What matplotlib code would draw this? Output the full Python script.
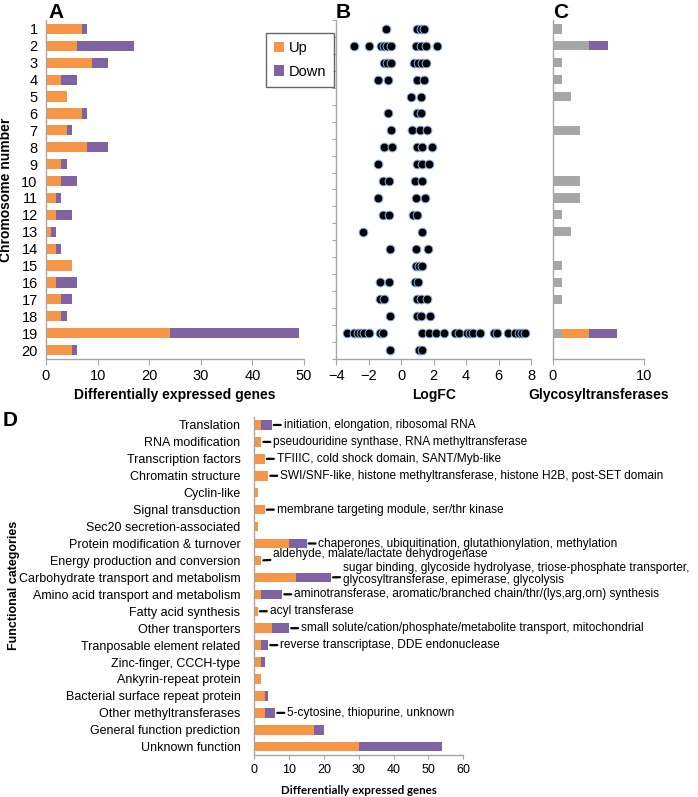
import matplotlib
matplotlib.use("Agg")
import matplotlib.pyplot as plt
import numpy as np

plt.rcParams['font.family'] = ['Liberation Sans', 'DejaVu Sans']

ORANGE = '#F79646'
PURPLE = '#8064A2'
GREY = '#A6A6A6'
SPINE = '#A6A6A6'

# ---------------- Panel A data ----------------
chromosomes = [str(i) for i in range(1, 21)]
chr_up = [7, 6, 9, 3, 4, 7, 4, 8, 3, 3, 2, 2, 1, 2, 5, 2, 3, 3, 24, 5]
chr_down = [1, 11, 3, 3, 0, 1, 1, 4, 1, 3, 1, 3, 1, 1, 0, 4, 2, 1, 25, 1]

# ---------------- Panel B data (LogFC per chromosome) ----------------
logfc = {
    1: [-0.93, 1.0, 1.2, 1.4],
    2: [-2.93, -2.0, -1.26, -1.05, -0.85, -0.65, 0.93, 1.2, 1.5, 2.2],
    3: [-1.05, -0.85, -0.65, 0.8, 1.05, 1.3, 1.55],
    4: [-1.44, -0.79, 1.0, 1.4],
    5: [0.63, 1.2],
    6: [-0.83, 1.0, 1.24],
    7: [-0.62, 0.64, 1.13, 1.57],
    8: [-1.05, -0.54, 1.0, 1.26, 1.9],
    9: [-1.44, 1.0, 1.3, 1.7],
    10: [-1.1, -0.75, 0.83, 1.3],
    11: [-1.4, 0.9, 1.46],
    12: [-1.13, -0.75, 0.75, 0.95],
    13: [-2.36, 1.28],
    14: [-0.7, 0.91, 1.63],
    15: [0.9, 1.1, 1.3],
    16: [-1.32, -0.75, 0.85, 1.03],
    17: [-1.32, -1.05, 1.0, 1.2, 1.6],
    18: [-0.66, 1.0, 1.2, 1.78],
    19: [-3.34, -2.9, -2.69, -2.48, -2.28, -1.97, -1.3, -1.15,
         1.3, 1.71, 2.12, 2.63, 3.34, 3.55, 4.06, 4.26, 4.43, 4.88,
         5.7, 5.9, 6.61, 7.02, 7.23, 7.43, 7.64],
    20: [-0.68, 1.07, 1.28],
}

# ---------------- Panel C data ----------------
gt_other = [1, 4, 1, 1, 2, 0, 3, 0, 0, 3, 3, 1, 2, 0, 1, 1, 1, 0, 1, 0]
gt_up = [0, 0, 0, 0, 0, 0, 0, 0, 0, 0, 0, 0, 0, 0, 0, 0, 0, 0, 3, 0]
gt_down = [0, 2, 0, 0, 0, 0, 0, 0, 0, 0, 0, 0, 0, 0, 0, 0, 0, 0, 3, 0]

# ---------------- Panel D data ----------------
categories = [
    "Translation", "RNA modification", "Transcription factors",
    "Chromatin structure", "Cyclin-like", "Signal transduction",
    "Sec20 secretion-associated", "Protein modification & turnover",
    "Energy production and conversion",
    "Carbohydrate transport and metabolism",
    "Amino acid transport and metabolism", "Fatty acid synthesis",
    "Other transporters", "Tranposable element related",
    "Zinc-finger, CCCH-type", "Ankyrin-repeat protein",
    "Bacterial surface repeat protein", "Other methyltransferases",
    "General function prediction", "Unknown function",
]
cat_up = [2, 2, 3, 4, 1, 3, 1, 10, 2, 12, 2, 1, 5, 2, 2, 2, 3, 3, 17, 30]
cat_down = [3, 0, 0, 0, 0, 0, 0, 5, 0, 10, 6, 0, 5, 2, 1, 0, 1, 3, 3, 24]
cat_notes = [
    "initiation, elongation, ribosomal RNA",
    "pseudouridine synthase, RNA methyltransferase",
    "TFIIIC, cold shock domain, SANT/Myb-like",
    "SWI/SNF-like, histone methyltransferase, histone H2B, post-SET domain",
    "",
    "membrane targeting module, ser/thr kinase",
    "",
    "chaperones, ubiquitination, glutathionylation, methylation",
    "aldehyde, malate/lactate dehydrogenase",
    "sugar binding, glycoside hydrolyase, triose-phosphate transporter,\nglycosyltransferase, epimerase, glycolysis",
    "aminotransferase, aromatic/branched chain/thr/(lys,arg,orn) synthesis",
    "acyl transferase",
    "small solute/cation/phosphate/metabolite transport, mitochondrial",
    "reverse transcriptase, DDE endonuclease",
    "",
    "",
    "",
    "5-cytosine, thiopurine, unknown",
    "",
    "",
]
# vertical nudge of a few note labels (points), to avoid overlap
note_nudge = {8: 4.6, 9: 2.5}

W, H = 698, 797
fig = plt.figure(figsize=(W / 100, H / 100), dpi=100)


def frac_rect(x0, y0, x1, y1):
    return [x0 / W, 1 - y1 / H, (x1 - x0) / W, (y1 - y0) / H]


def style_axes(ax):
    for s in ['top', 'right']:
        ax.spines[s].set_visible(False)
    for s in ['left', 'bottom']:
        ax.spines[s].set_color(SPINE)
        ax.spines[s].set_linewidth(1.0)
    ax.tick_params(axis='both', colors=SPINE, labelcolor='black')


ypos = np.arange(1, 21)

# ---------- A ----------
axA = fig.add_axes(frac_rect(46, 20.5, 304, 358.5))
axA.barh(ypos, chr_up, height=0.6, color=ORANGE, label='Up')
axA.barh(ypos, chr_down, left=chr_up, height=0.6, color=PURPLE, label='Down')
axA.set_ylim(20.5, 0.5)
axA.set_xlim(0, 50)
axA.set_yticks(ypos)
axA.set_yticklabels(chromosomes, fontsize=10.5)
axA.set_xticks(np.arange(0, 51, 10))
axA.tick_params(axis='x', labelsize=10.5, length=4)
axA.tick_params(axis='y', length=0, pad=6)
style_axes(axA)
axA.set_xlabel('Differentially expressed genes', fontsize=10, fontweight='bold', labelpad=4)
axA.set_ylabel('Chromosome number', fontsize=10, fontweight='bold', labelpad=6)
fig.text(48 / W, 1 - 12 / H, 'A', fontsize=15, fontweight='bold', va='center', ha='left')

h, l = axA.get_legend_handles_labels()
fig.legend(h, l, loc='upper left', bbox_to_anchor=(266 / W, 1 - 33 / H),
           fontsize=10.5, frameon=True, fancybox=False, edgecolor='#404040',
           handlelength=0.7, handleheight=0.7, handletextpad=0.3,
           borderpad=0.55, labelspacing=0.65, borderaxespad=0)

# ---------- B ----------
axB = fig.add_axes(frac_rect(336.3, 20.5, 531, 358.5))
for chrom, vals in logfc.items():
    axB.scatter(vals, [chrom] * len(vals), s=40, color='black',
                edgecolor='#8DB4E2', linewidth=0.7, zorder=3)
axB.set_ylim(20.5, 0.5)
axB.set_xlim(-4, 8)
axB.set_xticks(np.arange(-4, 9, 2))
axB.set_yticks(np.arange(0.5, 21, 1))
axB.set_yticklabels([])
axB.tick_params(axis='x', labelsize=10.5, length=4)
axB.tick_params(axis='y', length=3)
style_axes(axB)
axB.set_xlabel('LogFC', fontsize=10, fontweight='bold', labelpad=4)
fig.text(336 / W, 1 - 12 / H, 'B', fontsize=15, fontweight='bold', va='center', ha='left')

# ---------- C ----------
axC = fig.add_axes(frac_rect(552.7, 20.5, 644.3, 358.5))
left1 = np.array(gt_other)
axC.barh(ypos, gt_other, height=0.55, color=GREY)
axC.barh(ypos, gt_up, left=left1, height=0.55, color=ORANGE)
axC.barh(ypos, gt_down, left=left1 + np.array(gt_up), height=0.55, color=PURPLE)
axC.set_ylim(20.5, 0.5)
axC.set_xlim(0, 10)
axC.set_xticks([0, 10])
axC.set_yticks([])
axC.tick_params(axis='x', labelsize=10.5, length=4)
style_axes(axC)
axC.set_xlabel('Glycosyltransferases', fontsize=10, fontweight='bold', labelpad=4)
fig.text(553 / W, 1 - 12 / H, 'C', fontsize=15, fontweight='bold', va='center', ha='left')

# ---------- D ----------
axD = fig.add_axes(frac_rect(254.3, 416.5, 463.3, 755.2))
yD = np.arange(len(categories))
axD.barh(yD, cat_up, height=0.56, color=ORANGE)
axD.barh(yD, cat_down, left=cat_up, height=0.56, color=PURPLE)
axD.set_ylim(len(categories) - 0.5, -0.5)
axD.set_xlim(0, 60)
axD.set_xticks(np.arange(0, 61, 10))
axD.set_yticks(yD)
axD.set_yticklabels(categories, fontsize=9)
axD.tick_params(axis='x', labelsize=9, length=3)
axD.tick_params(axis='y', length=0, pad=10)
style_axes(axD)
axD.set_xlabel('Differentially expressed genes', fontsize=8.3, fontweight='bold',
               family=['Lato', 'DejaVu Sans'], labelpad=6)
axD.set_ylabel('Functional categories', fontsize=9, fontweight='bold')
axD.yaxis.set_label_coords(-1.12, 0.5)
for i, note in enumerate(cat_notes):
    if not note:
        continue
    total = cat_up[i] + cat_down[i]
    dy = note_nudge.get(i, 0.0)
    axD.annotate(note, xy=(total, i), xytext=(8.5, dy), textcoords='offset points',
                 ha='left', va='center', fontsize=8.6, linespacing=1.0,
                 arrowprops=dict(arrowstyle='-', lw=1.6, color='black',
                                 shrinkA=0, shrinkB=1.5),
                 annotation_clip=False)
fig.text(3 / W, 1 - 420 / H, 'D', fontsize=15, fontweight='bold', va='center', ha='left')

fig.savefig('out.png', dpi=100)
